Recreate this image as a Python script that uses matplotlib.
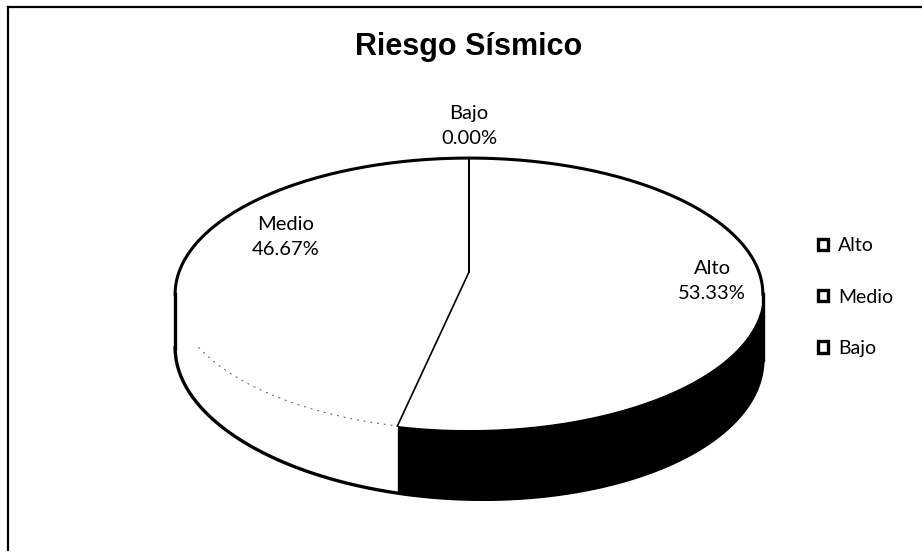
import numpy as np
import matplotlib.pyplot as plt
from matplotlib.patches import Polygon, Patch

# Datos del gráfico
categorias = ["Alto", "Medio", "Bajo"]
porcentajes = [53.33, 46.67, 0.00]
colores_lado = ["black", "white", "black"]

titulo = "Riesgo Sísmico"

# Geometría del pastel 3D (en píxeles)
cx, cy = 469, 272      # vértice del pastel
rx, ry = 290, 132.4    # radios
k = 0.162              # perspectiva
grosor = 58            # grosor del lado
sesgo = 0.02           # el lado derecho se ve un poco más grueso (escaneo)
alfa = np.degrees(np.arcsin(k))

# posiciones de las etiquetas (px)
pos_etiquetas = [(712, 281), (286, 237), (469, 126)]


def proj(theta_deg, prof=0.0):
    t = np.radians(theta_deg)
    u, v = np.cos(t), np.sin(t)
    w = 1 + k * v
    x = cx + rx * u / w
    y = cy - ry * v / w
    if prof:
        y = y + (prof + sesgo * (x - cx)) / w
    return x, y


def arco(a0, a1, prof=0.0, n=200):
    th = np.linspace(a0, a1, n)
    x, y = proj(th, prof)
    return np.column_stack([x, y])


fig = plt.figure(figsize=(9.22, 5.51), dpi=100)
ax = fig.add_axes([0, 0, 1, 1])
ax.set_xlim(0, 922)
ax.set_ylim(551, 0)
ax.axis("off")

# borde del gráfico
ax.plot([8, 8], [7, 551], color="black", lw=1.6)
ax.plot([8, 922], [7, 7], color="black", lw=1.6)

ax.text(469, 47, titulo, ha="center", va="center", fontsize=22,
        fontweight="bold", family="Liberation Sans")

# ángulos de cada porción (sentido horario desde las 12)
fracs = np.array(porcentajes) / sum(porcentajes)
limites = 90 - 360 * np.concatenate([[0], np.cumsum(fracs)])

# lados visibles
frente = (-180 + alfa, -alfa)
for i in range(len(categorias)):
    fin, ini = limites[i + 1], limites[i]
    lo, hi = max(fin, frente[0]), min(ini, frente[1])
    if hi <= lo:
        continue
    top = arco(lo, hi)
    bot = arco(hi, lo, grosor)
    ax.add_patch(Polygon(np.vstack([top, bot]), closed=True,
                         facecolor=colores_lado[i], edgecolor=colores_lado[i],
                         lw=0.5, zorder=2))

# cara superior
ax.add_patch(Polygon(arco(0, 360, n=400), closed=True, facecolor="white",
                     edgecolor="none", zorder=3))

# contorno
ax.plot(*arco(-alfa, 180 + alfa).T, color="black", lw=2.2, zorder=5)
ax.plot(*arco(-180 + alfa, -alfa, grosor).T, color="black", lw=2.4, zorder=5)
for a in (-alfa, 180 + alfa):
    x0, y0 = proj(a)
    x1, y1 = proj(a, grosor)
    ax.plot([x0, x1], [y0, y1], color="black", lw=2.4, zorder=5)

# borde frontal sobre el lado blanco (línea tenue)
lo_m = max(limites[2], frente[0])
hi_m = min(limites[1], frente[1])
ax.plot(*arco(lo_m + 22, hi_m).T, color="0.35", lw=0.7,
        linestyle=(0, (2, 5)), zorder=4)

# líneas de división
for a in limites:
    x1, y1 = proj(a)
    ax.plot([cx, x1], [cy, y1], color="black", lw=1.2, zorder=6)

# etiquetas
for nombre, valor, (lx, ly) in zip(categorias, porcentajes, pos_etiquetas):
    ax.text(lx, ly, f"{nombre}\n{valor:.2f}%", ha="center", va="center",
            fontsize=14.5, family="Lato", linespacing=1.6, zorder=7)

# leyenda
handles = [Patch(facecolor="white", edgecolor="black", lw=2.4, label=c)
           for c in categorias]
ax.legend(handles=handles, loc="center left", frameon=False,
          bbox_to_anchor=(800 / 922, 1 - 297 / 551),
          bbox_transform=fig.transFigure, prop={"family": "Lato", "size": 14},
          handlelength=0.55, handleheight=0.55, handletextpad=0.5,
          labelspacing=1.75)

fig.savefig("out.png", dpi=100)
